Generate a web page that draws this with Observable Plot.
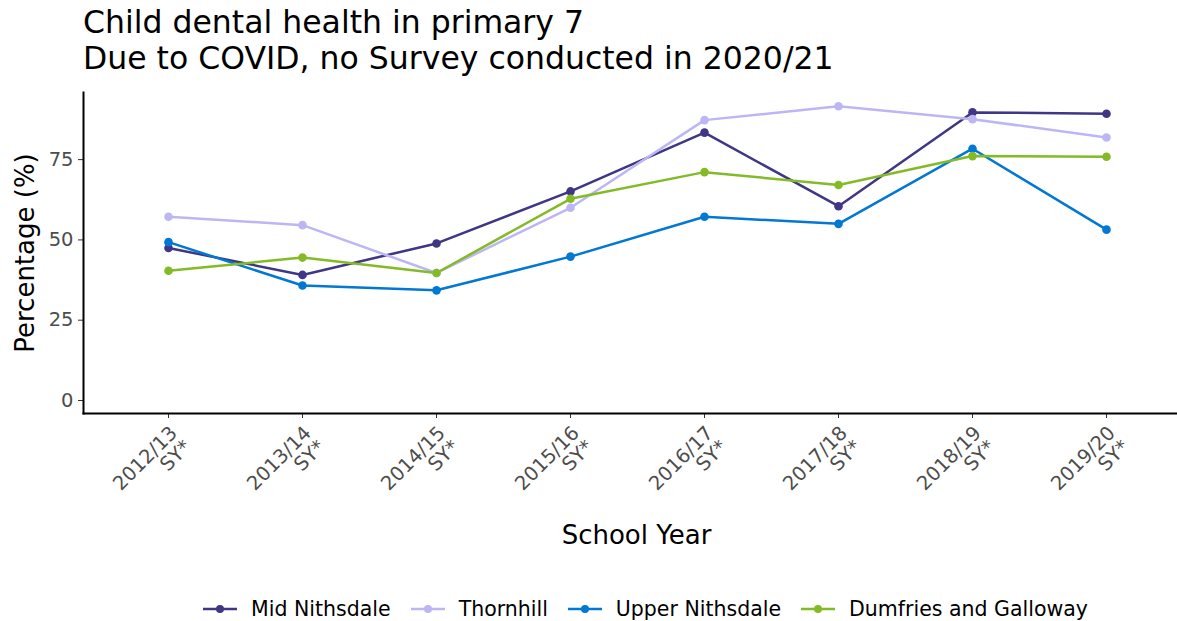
<!DOCTYPE html>
<html>
<head>
<meta charset="utf-8">
<script src="https://cdn.jsdelivr.net/npm/d3@7"></script>
<script src="https://cdn.jsdelivr.net/npm/@observablehq/plot@0.6"></script>
<style>
  body { margin: 0; background: #fff; font-family: "DejaVu Sans", sans-serif; }
  #title { padding: 4px 0 0 83px; height: 76px; font-size: 31.5px; line-height: 36px; color: #000; white-space: nowrap; }
  #legend { display: flex; justify-content: center; align-items: center; padding-left: 114px; width: 1063px; height: 30px; margin-top: 24px; font-size: 20.5px; color: #000; }
  .item { display: flex; align-items: center; margin: 0 10px; }
  .item svg { margin-right: 14px; }
</style>
</head>
<body>
<div id="title">Child dental health in primary 7<br>Due to COVID, no Survey conducted in 2020/21</div>
<div id="chart"></div>
<div id="legend"></div>
<script>
const years = ["2012/13", "2013/14", "2014/15", "2015/16", "2016/17", "2017/18", "2018/19", "2019/20"];
const seriesNames = ["Mid Nithsdale", "Thornhill", "Upper Nithsdale", "Dumfries and Galloway"];
const seriesColors = ["#3F3685", "#BDB6F5", "#0078D4", "#83BB26"];
const midNithsdale = [47.5, 39.1, 48.9, 65.1, 83.4, 60.5, 89.7, 89.3];
const thornhill = [57.2, 54.6, 39.7, 60.0, 87.3, 91.6, 87.6, 81.9];
const upperNithsdale = [49.3, 35.8, 34.3, 44.8, 57.2, 55.0, 78.4, 53.2];
const dumfriesGalloway = [40.4, 44.5, 39.7, 62.8, 71.1, 67.1, 76.1, 75.9];
const yTicks = [0, 25, 50, 75];

const seriesValues = [midNithsdale, thornhill, upperNithsdale, dumfriesGalloway];
const data = [];
seriesNames.forEach((name, i) => {
  years.forEach((yr, j) => data.push({series: name, year: yr, value: seriesValues[i][j]}));
});

const chart = Plot.plot({
  width: 1177,
  height: 490,
  marginTop: 12,
  marginBottom: 157,
  marginLeft: 83,
  marginRight: 0,
  style: {fontFamily: "DejaVu Sans, sans-serif", background: "#fff"},
  x: {type: "point", domain: years, range: [165, 1109], padding: 0, label: null},
  y: {domain: [-4.05, 95.9], label: null},
  color: {domain: seriesNames, range: seriesColors},
  marks: [
    Plot.axisY(yTicks, {tickSize: 5, tickPadding: 5, fontSize: 19.5, color: "#4d4d4d", stroke: "#333", label: null}),
    Plot.axisX(years, {tickSize: 5, tickPadding: 6, dx: 0, tickRotate: -45, textAnchor: "end", lineAnchor: "top", fontSize: 19.5, color: "#4d4d4d", stroke: "#333", label: null, tickFormat: d => d + "\nSY*"}),
    Plot.frame({anchor: "left", stroke: "#000", strokeWidth: 2}),
    Plot.frame({anchor: "bottom", stroke: "#000", strokeWidth: 2}),
    Plot.text(["Percentage (%)"], {frameAnchor: "left", rotate: -90, dx: -58, textAnchor: "middle", lineAnchor: "middle", fontSize: 26, fill: "#000"}),
    Plot.text(["School Year"], {frameAnchor: "bottom", dy: 122, dx: 6, textAnchor: "middle", lineAnchor: "middle", fontSize: 26, fill: "#000"}),
    Plot.line(data, {x: "year", y: "value", z: "series", stroke: "series", strokeWidth: 2.5}),
    Plot.dot(data, {x: "year", y: "value", fill: "series", r: 4.3})
  ]
});
document.getElementById("chart").appendChild(chart);

const legend = document.getElementById("legend");
seriesNames.forEach((name, i) => {
  const item = document.createElement("div");
  item.className = "item";
  item.innerHTML = `<svg width="34" height="14"><line x1="0" y1="7" x2="34" y2="7" stroke="${seriesColors[i]}" stroke-width="2.5"/><circle cx="17" cy="7" r="4" fill="${seriesColors[i]}"/></svg><span>${name}</span>`;
  legend.appendChild(item);
});
</script>
</body>
</html>
